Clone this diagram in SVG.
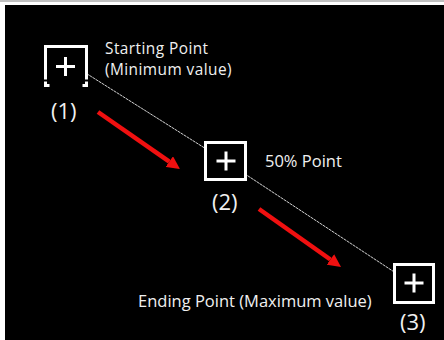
<svg xmlns="http://www.w3.org/2000/svg" width="444" height="340" viewBox="0 0 444 340">
  <style>
    .box { fill: #000; stroke: #fff; stroke-width: 3; }
    .open { fill: none; stroke: #fff; stroke-width: 3; }
    .plus { stroke: #fff; stroke-width: 3; fill: none; }
    .lbl { font-family: "Open Sans", "Liberation Sans", sans-serif; font-size: 16.5px; fill: #f0f0f0; }
    .lbl2 { font-family: "Open Sans", "Liberation Sans", sans-serif; font-size: 15.4px; letter-spacing: 0.45px; fill: #f0f0f0; }
    .num { font-family: "Open Sans", "Liberation Sans", sans-serif; font-size: 22px; fill: #f0f0f0; }
    .guide { fill: none; stroke: #d0d0d0; stroke-width: 1; stroke-dasharray: 3 0.6; }
    .red { stroke: #f01010; stroke-width: 4.5; fill: none; }
  </style>
  <defs>
    <marker id="ah" viewBox="0 0 10 10" refX="0" refY="5" markerWidth="13" markerHeight="13" markerUnits="userSpaceOnUse" orient="auto" preserveAspectRatio="none">
      <path d="M0,0 L10,5 L0,10 z" fill="#f01010"/>
    </marker>
  </defs>
  <rect x="0" y="0" width="444" height="340" fill="#fff"/>
  <rect x="0" y="0" width="444" height="2" fill="#c0c0c0"/>
  <rect x="5" y="5" width="439" height="335" fill="#000"/>

  <g id="connectors">
    <polyline class="guide" points="65,60 226,161.5 414,285"/>
    <line class="red" x1="98" y1="112" x2="169.3" y2="161.6" marker-end="url(#ah)"/>
    <line class="red" x1="259" y1="209" x2="330.4" y2="259.5" marker-end="url(#ah)"/>
  </g>

  <g id="node1">
    <rect x="45.5" y="46.5" width="41" height="39" fill="#000"/>
    <path class="open" d="M45.5,79.5 V46.5 H86.5 V79.5"/>
    <path class="open" d="M45.5,81.5 V85.5 H49.5 M82.5,85.5 H86.5 V81.5"/>
    <path class="plus" d="M56,66.5 H75 M65.5,57 V76"/>
    <text class="lbl2" x="105" y="53.5">Starting Point</text>
    <text class="lbl2" x="105" y="74.5">(Minimum value)</text>
    <text class="num" x="51" y="118.5">(1)</text>
  </g>

  <g id="node2">
    <rect class="box" x="205.5" y="142.5" width="40" height="37"/>
    <path class="plus" d="M216.5,161 H235.5 M226,151.5 V170.5"/>
    <text class="lbl" x="265" y="166.5">50% Point</text>
    <text class="num" x="212" y="210">(2)</text>
  </g>

  <g id="node3">
    <rect class="box" x="394.5" y="264.5" width="39" height="38"/>
    <path class="plus" d="M404.5,283 H423.5 M414,273.5 V292.5"/>
    <text class="lbl" x="138" y="306.5">Ending Point (Maximum value)</text>
    <text class="num" x="400" y="329.5">(3)</text>
  </g>
</svg>
